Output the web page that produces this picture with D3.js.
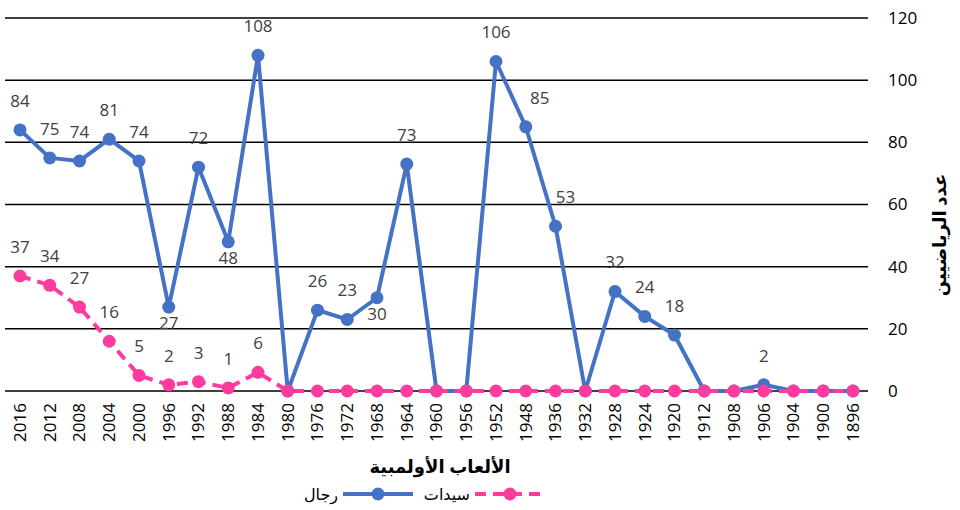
<!DOCTYPE html>
<html><head><meta charset="utf-8">
<script src="https://cdn.jsdelivr.net/npm/d3@7"></script>
<style>body{margin:0;background:#fff;} text{font-family:"Open Sans","Noto Sans","DejaVu Sans",sans-serif;}</style>
</head><body><svg id="c" width="960" height="510"></svg>
<script>
const years = ["2016","2012","2008","2004","2000","1996","1992","1988","1984","1980","1976","1972","1968","1964","1960","1956","1952","1948","1936","1932","1928","1924","1920","1912","1908","1906","1904","1900","1896"];
const men = [84,75,74,81,74,27,72,48,108,0,26,23,30,73,0,0,106,85,53,0,32,24,18,0,0,2,0,0,0];
const women = [37,34,27,16,5,2,3,1,6,0,0,0,0,0,0,0,0,0,0,0,0,0,0,0,0,0,0,0,0];
const menBelow = ["1996","1988","1968"];
const menShiftRight = {"1948":14,"1936":10};
const yTicks = [0,20,40,60,80,100,120];
const seriesNames = {men:"رجال", women:"سيدات"};
const xTitle = "الألعاب الأولمبية";
const yTitle = "عدد الرياضيين";

const svg = d3.select("#c");
const x = d3.scalePoint().domain(years).range([20,853]);
const y = d3.scaleLinear().domain([0,120]).range([391,18]);
const blue = "#4472C4", pink = "#FF3C9E", txt = "#404040";

svg.append("g").selectAll("line").data(yTicks).join("line")
  .attr("x1",5).attr("x2",868).attr("y1",d=>y(d)).attr("y2",d=>y(d))
  .attr("stroke","#000").attr("stroke-width",1.5);
svg.append("g").selectAll("text").data(yTicks).join("text")
  .attr("x",888).attr("y",d=>y(d)).attr("dy","0.35em")
  .attr("font-size",17).attr("fill","#000").text(d=>d);
svg.append("g").selectAll("text").data(years).join("text")
  .attr("transform",d=>`translate(${x(d)},403) rotate(-90)`)
  .attr("text-anchor","end").attr("dy","0.35em")
  .attr("font-size",17).attr("fill","#000").text(d=>d);

const line = d3.line().x((d,i)=>x(years[i])).y(d=>y(d));
svg.append("path").datum(men).attr("d",line).attr("fill","none")
  .attr("stroke",blue).attr("stroke-width",4).attr("stroke-linejoin","round");
svg.append("g").selectAll("circle").data(men).join("circle")
  .attr("cx",(d,i)=>x(years[i])).attr("cy",d=>y(d)).attr("r",6.5).attr("fill",blue);
svg.append("path").datum(women).attr("d",line).attr("fill","none")
  .attr("stroke",pink).attr("stroke-width",4).attr("stroke-dasharray","11,7");
svg.append("g").selectAll("circle").data(women).join("circle")
  .attr("cx",(d,i)=>x(years[i])).attr("cy",d=>y(d)).attr("r",6.5).attr("fill",pink);

svg.append("g").selectAll("text").data(men.map((v,i)=>({v,yr:years[i]})).filter(d=>d.v>0)).join("text")
  .attr("x",d=>x(d.yr)+(menShiftRight[d.yr]||0)).attr("y",d=>menBelow.includes(d.yr)? y(d.v)+16 : y(d.v)-29)
  .attr("dy","0.35em").attr("text-anchor","middle").attr("font-size",17).attr("fill",txt).text(d=>d.v);
svg.append("g").selectAll("text").data(women.map((v,i)=>({v,yr:years[i]})).filter(d=>d.v>0)).join("text")
  .attr("x",d=>x(d.yr)).attr("y",d=>y(d.v)-29)
  .attr("dy","0.35em").attr("text-anchor","middle").attr("font-size",17).attr("fill",txt).text(d=>d.v);

svg.append("text").attr("x",440).attr("y",467).attr("dy","0.35em").attr("text-anchor","middle")
  .attr("font-size",18).attr("font-weight","bold").attr("fill","#000").attr("direction","rtl").text(xTitle);
svg.append("text").attr("transform","translate(940,235) rotate(-90)").attr("dy","0.35em").attr("text-anchor","middle")
  .attr("font-size",18).attr("font-weight","bold").attr("fill","#000").attr("direction","rtl").text(yTitle);

const lg = svg.append("g");
lg.append("line").attr("x1",475).attr("x2",545).attr("y1",494).attr("y2",494).attr("stroke",pink).attr("stroke-width",4).attr("stroke-dasharray","11,7");
lg.append("circle").attr("cx",510).attr("cy",494).attr("r",6.5).attr("fill",pink);
lg.append("text").attr("x",470).attr("y",494).attr("dy","0.35em").attr("text-anchor","end").attr("font-size",16).attr("fill","#000").text(seriesNames.women);
lg.append("line").attr("x1",343).attr("x2",413).attr("y1",494).attr("y2",494).attr("stroke",blue).attr("stroke-width",4);
lg.append("circle").attr("cx",378).attr("cy",494).attr("r",6.5).attr("fill",blue);
lg.append("text").attr("x",338).attr("y",494).attr("dy","0.35em").attr("text-anchor","end").attr("font-size",16).attr("fill","#000").text(seriesNames.men);
</script></body></html>
